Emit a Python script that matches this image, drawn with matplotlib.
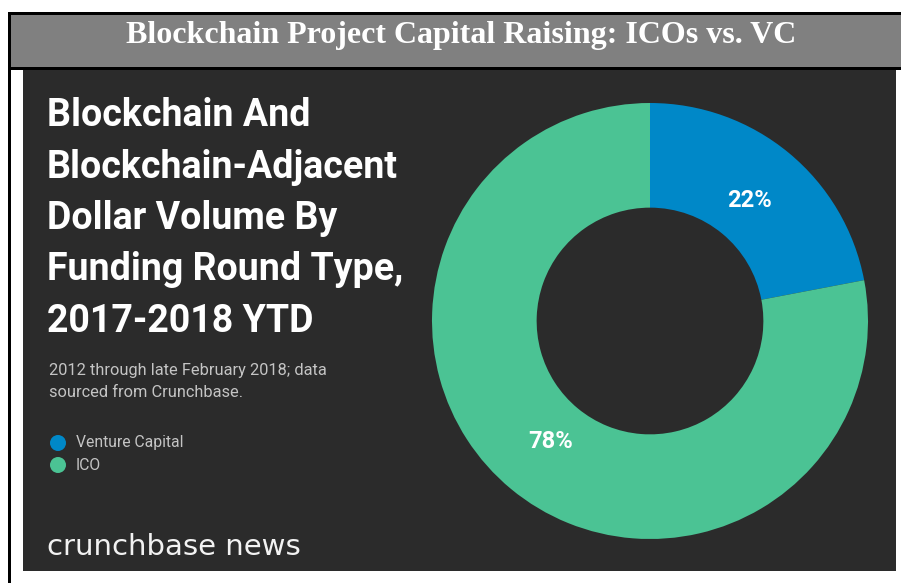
import matplotlib
matplotlib.use("Agg")
import matplotlib.pyplot as plt
from matplotlib.patches import Rectangle, Circle

categories = ["Venture Capital", "ICO"]
shares = [22, 78]
colors = ["#0088c8", "#4bc394"]
title = "Blockchain Project Capital Raising: ICOs vs. VC"
heading = ["Blockchain And", "Blockchain-Adjacent", "Dollar Volume By",
           "Funding Round Type,", "2017-2018 YTD"]
subtitle = ["2012 through late February 2018; data", "sourced from Crunchbase."]
brand = "crunchbase news"

W, H = 901, 583
fig = plt.figure(figsize=(W / 100, H / 100), dpi=100)
fig.patch.set_facecolor("white")

bg = fig.add_axes([0, 0, 1, 1])
bg.set_xlim(0, W)
bg.set_ylim(H, 0)
bg.axis("off")

# title bar
bg.add_patch(Rectangle((10, 14), W - 10, 53, facecolor="#808080", edgecolor="none"))
bg.add_patch(Rectangle((8, 12), W - 8, 2.5, facecolor="black", edgecolor="none"))
bg.add_patch(Rectangle((8, 67), W - 8, 2.5, facecolor="black", edgecolor="none"))
bg.add_patch(Rectangle((8, 12), 2.5, H - 12, facecolor="black", edgecolor="none"))
bg.text(461, 36, title, ha="center", va="center", color="white",
        fontsize=23, fontweight="bold", family="Liberation Serif")

# dark panel
bg.add_patch(Rectangle((23, 70), 873, 501, facecolor="#2b2b2b", edgecolor="none"))

for i, line in enumerate(heading):
    bg.text(47, 126 + i * 51.5, line, ha="left", va="baseline", color="white",
            fontsize=27, fontweight="bold", family="Roboto")

for i, line in enumerate(subtitle):
    bg.text(49, 375 + i * 22, line, ha="left", va="baseline", color="#c4c4c4",
            fontsize=11.8, family="Roboto")

for i, (cat, col) in enumerate(zip(categories, colors)):
    y = 443 + i * 22
    bg.add_patch(Circle((58, y), 8, facecolor=col, edgecolor="none"))
    bg.text(76, y, cat, ha="left", va="center", color="#c4c4c4",
            fontsize=11.3, family="Roboto")

bg.text(47, 555, brand, ha="left", va="baseline", color="#f2f2f2",
        fontsize=21, family="DejaVu Sans")

# donut
cx, cy, R = 650, 321, 218
ax = fig.add_axes([(cx - R) / W, (H - cy - R) / H, 2 * R / W, 2 * R / H])
wedges, texts, autotexts = ax.pie(
    shares, colors=colors, startangle=90, counterclock=False,
    wedgeprops=dict(width=0.48, edgecolor="none"),
    autopct="%d%%", pctdistance=0.716,
    textprops=dict(color="white", fontsize=17, fontweight="bold", family="Roboto"))
ax.set_xlim(-1, 1)
ax.set_ylim(-1, 1)
ax.axis("off")

fig.savefig("out.png", dpi=100, facecolor="white")
